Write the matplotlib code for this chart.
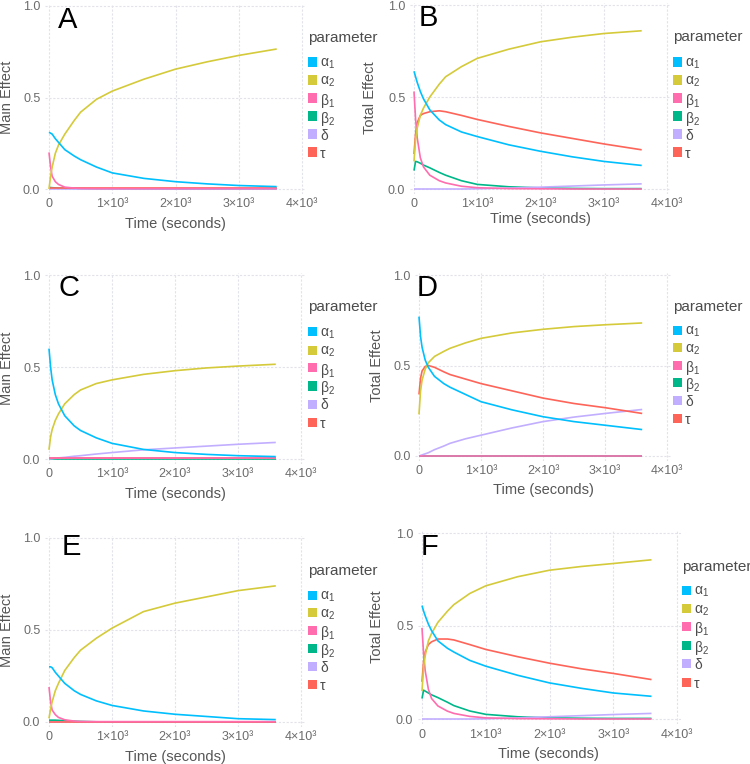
import numpy as np
import matplotlib
matplotlib.use("Agg")
import matplotlib.pyplot as plt
from matplotlib.patches import Rectangle

plt.rcParams['font.family'] = ['Liberation Sans', 'DejaVu Sans']
plt.rcParams['mathtext.default'] = 'regular'

# time points (seconds)
t = [0, 25, 50, 100, 150, 250, 400, 500, 750, 1000, 1500, 2000, 2500, 3000, 3600]

params = [r"$α_1$", r"$α_2$", r"$β_1$", r"$β_2$", "δ", "τ"]
colors = ["#00BFFF", "#D4CA3A", "#FF6DAE", "#00B78A", "#C2AEFF", "#FF6459"]
# drawing order: lines near zero should show pink/red on top
zorders = [6, 5, 4, 1, 2, 3]

zero = [0.0] * len(t)

# Panel A - main effect
a_alpha1 = [0.31, 0.305, 0.30, 0.275, 0.255, 0.215, 0.18, 0.16, 0.12, 0.088, 0.058, 0.04, 0.028, 0.019, 0.013]
a_alpha2 = [0.0, 0.07, 0.12, 0.195, 0.24, 0.30, 0.375, 0.42, 0.49, 0.535, 0.60, 0.655, 0.695, 0.73, 0.765]
a_beta1 = [0.20, 0.12, 0.07, 0.04, 0.025, 0.01, 0.005, 0.003, 0.002, 0.002, 0.002, 0.002, 0.002, 0.002, 0.002]
a_beta2 = [0.008, 0.008, 0.007, 0.006, 0.005, 0.004, 0.003, 0.002, 0.001, 0.001, 0, 0, 0, 0, 0]
a_delta = zero
a_tau = [0.004] * len(t)

# Panel B - total effect
b_alpha1 = [0.64, 0.61, 0.58, 0.53, 0.49, 0.43, 0.375, 0.35, 0.31, 0.285, 0.24, 0.205, 0.175, 0.15, 0.128]
b_alpha2 = [0.15, 0.27, 0.33, 0.40, 0.44, 0.50, 0.57, 0.61, 0.665, 0.71, 0.76, 0.80, 0.825, 0.845, 0.86]
b_beta1 = [0.53, 0.38, 0.28, 0.17, 0.12, 0.075, 0.045, 0.033, 0.015, 0.007, 0.002, 0.001, 0, 0, 0]
b_beta2 = [0.10, 0.15, 0.148, 0.14, 0.13, 0.115, 0.09, 0.075, 0.045, 0.025, 0.012, 0.006, 0.003, 0.002, 0.002]
b_delta = [0, 0, 0, 0, 0, 0, 0, 0, 0, 0.001, 0.005, 0.01, 0.016, 0.022, 0.028]
b_tau = [0.19, 0.30, 0.36, 0.40, 0.41, 0.42, 0.425, 0.42, 0.40, 0.378, 0.34, 0.305, 0.275, 0.245, 0.213]

# Panel C - main effect
c_alpha1 = [0.60, 0.50, 0.43, 0.35, 0.30, 0.235, 0.18, 0.155, 0.115, 0.085, 0.052, 0.035, 0.025, 0.018, 0.013]
c_alpha2 = [0.05, 0.12, 0.16, 0.21, 0.245, 0.30, 0.35, 0.375, 0.41, 0.43, 0.46, 0.48, 0.495, 0.505, 0.515]
c_beta1 = [0.003] * len(t)
c_beta2 = zero
c_delta = [0, 0.001, 0.002, 0.004, 0.006, 0.009, 0.015, 0.018, 0.027, 0.035, 0.05, 0.06, 0.07, 0.08, 0.09]
c_tau = [0.003] * len(t)

# Panel D - total effect
d_alpha1 = [0.77, 0.66, 0.60, 0.53, 0.49, 0.44, 0.40, 0.38, 0.34, 0.30, 0.255, 0.217, 0.19, 0.17, 0.146]
d_alpha2 = [0.23, 0.36, 0.42, 0.48, 0.515, 0.55, 0.578, 0.595, 0.625, 0.65, 0.68, 0.70, 0.715, 0.725, 0.735]
d_beta1 = zero
d_beta2 = zero
d_delta = [0, 0.003, 0.006, 0.012, 0.018, 0.035, 0.055, 0.07, 0.095, 0.115, 0.155, 0.19, 0.215, 0.235, 0.257]
d_tau = [0.34, 0.43, 0.47, 0.495, 0.50, 0.49, 0.465, 0.45, 0.425, 0.40, 0.36, 0.32, 0.29, 0.267, 0.235]

# Panel E - main effect
e_alpha1 = [0.30, 0.30, 0.295, 0.27, 0.25, 0.21, 0.17, 0.15, 0.115, 0.09, 0.06, 0.042, 0.03, 0.018, 0.013]
e_alpha2 = [0.02, 0.07, 0.11, 0.17, 0.21, 0.28, 0.35, 0.39, 0.455, 0.51, 0.60, 0.646, 0.68, 0.714, 0.74]
e_beta1 = [0.19, 0.11, 0.065, 0.04, 0.025, 0.012, 0.005, 0.003, 0.002, 0.002, 0.002, 0.002, 0.002, 0.002, 0.002]
e_beta2 = [0.01, 0.01, 0.01, 0.01, 0.009, 0.007, 0.004, 0.003, 0.001, 0, 0, 0, 0, 0, 0]
e_delta = zero
e_tau = [0.002] * len(t)

# Panel F - total effect
f_alpha1 = [0.61, 0.58, 0.555, 0.51, 0.475, 0.42, 0.38, 0.36, 0.315, 0.284, 0.235, 0.194, 0.165, 0.14, 0.122]
f_alpha2 = [0.15, 0.28, 0.34, 0.42, 0.46, 0.52, 0.58, 0.615, 0.675, 0.716, 0.765, 0.80, 0.82, 0.836, 0.856]
f_beta1 = [0.49, 0.35, 0.26, 0.16, 0.11, 0.07, 0.042, 0.03, 0.014, 0.006, 0.002, 0.001, 0, 0, 0]
f_beta2 = [0.11, 0.155, 0.15, 0.14, 0.13, 0.115, 0.09, 0.072, 0.043, 0.025, 0.012, 0.006, 0.004, 0.003, 0.003]
f_delta = [0, 0, 0, 0, 0, 0, 0, 0, 0, 0.001, 0.006, 0.012, 0.018, 0.024, 0.03]
f_tau = [0.20, 0.31, 0.36, 0.40, 0.415, 0.43, 0.43, 0.425, 0.40, 0.374, 0.335, 0.30, 0.27, 0.245, 0.212]

xticks = [0, 1000, 2000, 3000, 4000]
xticklabels = ["0", "1×10³", "2×10³", "3×10³", "4×10³"]
yticks = [0.0, 0.5, 1.0]
yticklabels = ["0.0", "0.5", "1.0"]

W, H = 750, 764
fig = plt.figure(figsize=(W / 100, H / 100), dpi=100)

XLIM = (-60, 4060)
YLIM = (-0.025, 1.01)


def make_axes(x0, x4, y0, y1):
    # x0/x4: pixel of x=0 / x=4000 ; y0/y1: pixel of y=0 / y=1
    sx = (x4 - x0) / 4000
    sy = (y0 - y1)
    left = x0 + XLIM[0] * sx
    right = x0 + XLIM[1] * sx
    top = y0 - YLIM[1] * sy
    bottom = y0 - YLIM[0] * sy
    ax = fig.add_axes([left / W, 1 - bottom / H, (right - left) / W, (bottom - top) / H])
    ax.set_xlim(XLIM)
    ax.set_ylim(YLIM)
    for s in ax.spines.values():
        s.set_visible(False)
    ax.set_xticks(xticks)
    ax.set_xticklabels(xticklabels)
    ax.set_yticks(yticks)
    ax.set_yticklabels(yticklabels)
    ax.tick_params(length=0, labelsize=9, labelcolor="#6c6c6c", pad=3.5)
    ax.grid(True, color="#e2e2ea", linestyle=(0, (2, 1.5)), linewidth=0.8)
    ax.set_axisbelow(True)
    return ax


def ftext(x, y, s, **kw):
    fig.text(x / W, 1 - y / H, s, **kw)


panels = [
    dict(letter="A", series=[a_alpha1, a_alpha2, a_beta1, a_beta2, a_delta, a_tau],
         ax=(49, 302, 189, 6), ylab="Main Effect", ylab_pos=(7, 97), xlab_pos=(175, 224),
         let_pos=(58, 20), leg=(308, 38, 62, 18)),
    dict(letter="B", series=[b_alpha1, b_alpha2, b_beta1, b_beta2, b_delta, b_tau],
         ax=(414, 667, 189, 5), ylab="Total Effect", ylab_pos=(370, 98), xlab_pos=(540, 219),
         let_pos=(419, 18), leg=(673, 37, 62, 18)),
    dict(letter="C", series=[c_alpha1, c_alpha2, c_beta1, c_beta2, c_delta, c_tau],
         ax=(49, 301, 459, 275), ylab="Main Effect", ylab_pos=(7, 368), xlab_pos=(175, 494),
         let_pos=(59, 288), leg=(308, 307, 332, 18)),
    dict(letter="D", series=[d_alpha1, d_alpha2, d_beta1, d_beta2, d_delta, d_tau],
         ax=(419, 667, 456, 275), ylab="Total Effect", ylab_pos=(377, 366), xlab_pos=(543, 490),
         let_pos=(417, 288), leg=(673, 307, 330, 17.6)),
    dict(letter="E", series=[e_alpha1, e_alpha2, e_beta1, e_beta2, e_delta, e_tau],
         ax=(49, 301, 722, 538), ylab="Main Effect", ylab_pos=(7, 630), xlab_pos=(175, 757),
         let_pos=(62, 547), leg=(308, 571, 595, 17.8)),
    dict(letter="F", series=[f_alpha1, f_alpha2, f_beta1, f_beta2, f_delta, f_tau],
         ax=(422, 677, 719, 533), ylab="Total Effect", ylab_pos=(377, 627), xlab_pos=(548, 754),
         let_pos=(421, 547), leg=(682, 567, 590, 18.4)),
]

for p in panels:
    ax = make_axes(*p["ax"])
    for vals, col, z in zip(p["series"], colors, zorders):
        ax.plot(t, vals, color=col, linewidth=1.2, solid_capstyle="butt", zorder=2 + z * 0.1)

    ftext(*p["let_pos"], p["letter"], fontsize=21, color="black", ha="left", va="center")
    ftext(*p["ylab_pos"], p["ylab"], fontsize=10.5, color="#565656", rotation=90,
          ha="center", va="center")
    ftext(*p["xlab_pos"], "Time (seconds)", fontsize=10.5, color="#565656",
          ha="center", va="center")

    lx, ty, ey, step = p["leg"]
    ftext(lx, ty, "parameter", fontsize=11, color="#4c4c4c", ha="left", va="center")
    for i, (name, col) in enumerate(zip(params, colors)):
        yy = ey + i * step
        fig.patches.append(Rectangle((lx / W, 1 - (yy + 4.5) / H), 9 / W, 9 / H,
                                     transform=fig.transFigure, facecolor=col,
                                     edgecolor="none"))
        ftext(lx + 12, yy, name, fontsize=10, color="#4c4c4c", ha="left", va="center_baseline")

fig.savefig("out.png", dpi=100)
